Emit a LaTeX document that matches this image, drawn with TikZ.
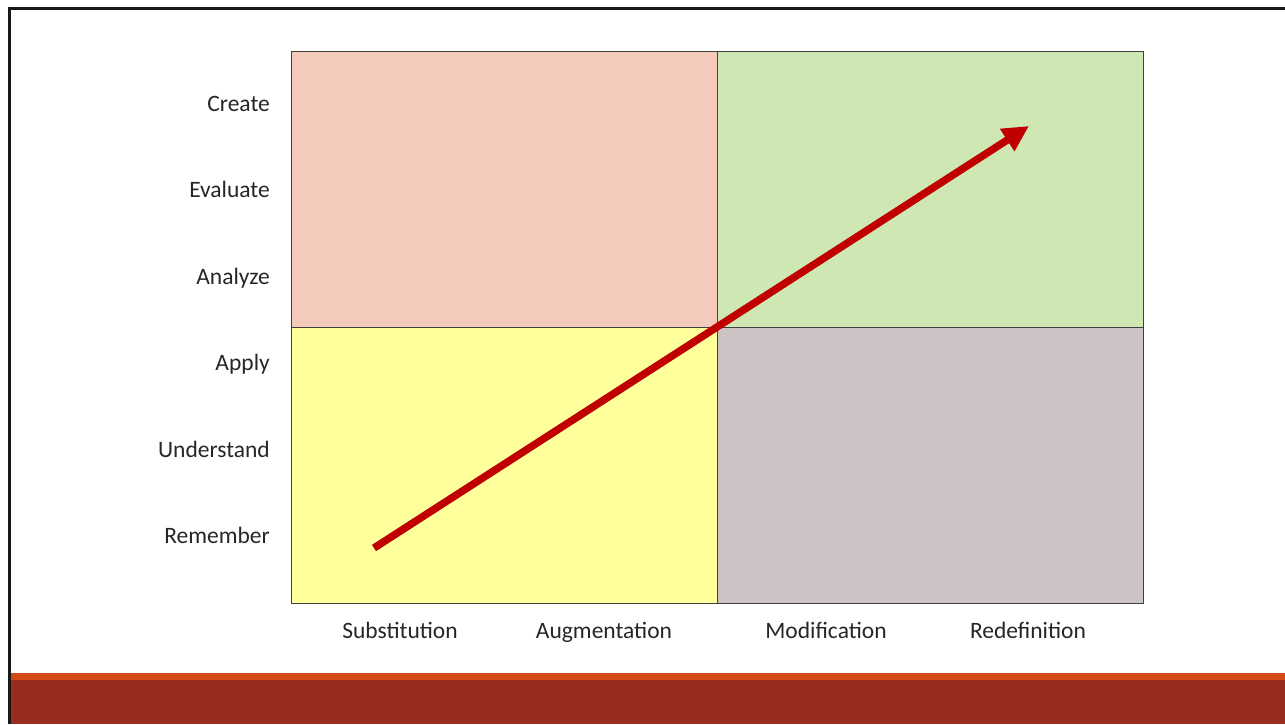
\documentclass[tikz,border=0pt]{standalone}
\usepackage{fontspec}
\setmainfont{Carlito}
\usetikzlibrary{arrows.meta,positioning}
\definecolor{thinkRed}{HTML}{F4CABA}
\definecolor{thinkGreen}{HTML}{CFE7B3}
\definecolor{techYellow}{HTML}{FFFF9C}
\definecolor{techGray}{HTML}{CDC3C5}
\definecolor{arrowRed}{HTML}{C00000}
\definecolor{bandOrange}{HTML}{D14A17}
\definecolor{bandRed}{HTML}{992B1F}

\begin{document}
\begin{tikzpicture}[
  x=1pt, y=-1pt,
  line cap=butt,
  every node/.style={font=\fontsize{23.5}{28}\selectfont, text=black!85},
  quad/.style={draw=black!75, line width=0.9pt, minimum width=426pt, minimum height=276pt, inner sep=0pt, outer sep=0pt},
  ylab/.style={anchor=base east, inner sep=0pt},
  xlab/.style={anchor=base, inner sep=0pt},
  growth/.style={-{Triangle[length=26pt, width=25pt]}, line width=7.5pt, draw=arrowRed}
]
  \useasboundingbox (0,0) rectangle (1285,724);

  % frame and footer bands
  \fill[bandRed] (11,680) rectangle (1285,724);
  \fill[bandOrange] (11,673) rectangle (1285,680);
  \draw[line width=3pt, black!90] (9,724) -- (9,8) -- (1285,8);

  % the four quadrants
  \node[quad, fill=thinkRed] (hiOld) at (504,189) {};
  \node[quad, fill=thinkGreen, right=0pt of hiOld] (hiNew) {};
  \node[quad, fill=techYellow, below=0pt of hiOld] (loOld) {};
  \node[quad, fill=techGray, below=0pt of hiNew] (loNew) {};

  % thinking levels
  \node[ylab] (create) at (270,111) {Create};
  \node[ylab] (evaluate) at (270,197) {Evaluate};
  \node[ylab] (analyze) at (270,284) {Analyze};
  \node[ylab] (apply) at (270,370) {Apply};
  \node[ylab] (understand) at (270,457) {Understand};
  \node[ylab] (remember) at (270,543) {Remember};

  % technology levels
  \node[xlab] (subst) at (400,638) {Substitution};
  \node[xlab] (augm) at (604,638) {Augmentation};
  \node[xlab] (modif) at (826,638) {Modification};
  \node[xlab] (redef) at (1028,638) {Redefinition};

  % growth arrow
  \coordinate (growStart) at (374,548);
  \coordinate (growEnd) at (1029,126);
  \draw[growth] (growStart) -- (growEnd);
\end{tikzpicture}
\end{document}
